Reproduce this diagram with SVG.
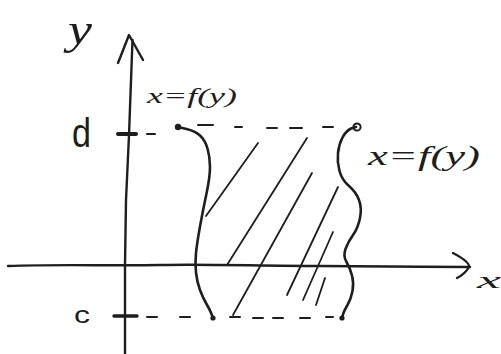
<svg xmlns="http://www.w3.org/2000/svg" width="501" height="354" viewBox="0 0 501 354">
<style>
.ink{fill:none;stroke:#1e1e1e;stroke-linecap:round;stroke-linejoin:round}
.ax{stroke-width:2.4}
.cv{stroke-width:2.6}
.ht{stroke-width:1.8}
.ds{stroke-width:2}
.lbl{font-family:"Liberation Serif",serif;font-style:italic;fill:#1e1e1e}
.let{font-family:"Liberation Sans",sans-serif;fill:#1e1e1e}
</style>
<rect width="501" height="354" fill="#ffffff"/>
<g id="axes">
  <path class="ink ax" d="M132.5,40 L129,135 L126,200 L125,265 L125,354"/>
  <path class="ink ax" d="M118,63 L129,35 L143,60"/>
  <path class="ink ax" d="M8,266 C60,264 110,266 160,265 S260,266 320,266 S420,267 470,267"/>
  <path class="ink ax" d="M453,253 Q470,262 469,267 Q465,274 457,278"/>
  <path class="ink" stroke-width="4" d="M118,134 L136,134"/>
  <path class="ink" stroke-width="3.4" d="M114,316 L137,316"/>
</g>
<g id="levels">
  <path class="ink ds" d="M147,134 L155,134 M198,125 L213,125 M235,127 L242,127 M267,128 L277,128 M290,128 L302,128 M323,127 L333,127"/>
  <path class="ink ds" d="M147,317 L157,317 M180,317 L190,317 M230,317 L240,317 M253,318 L263,318 M273,318 L283,318 M300,318 L310,318 M326,317 L333,317"/>
</g>
<g id="left-curve">
  <path class="ink cv" d="M178,127 L186.5,129 Q195,131 200,135.5 Q205,140 207.5,148.5 Q210,157 210,167 Q210,177 206.5,193.5 Q203,210 200,226.5 Q197,243 196,253 Q195,263 196,272.5 Q197,282 200,290 Q203,298 206.5,304 Q210,310 211.5,314 L213,318"/>
  <circle cx="178" cy="127" r="3.2" fill="#1e1e1e"/>
  <circle cx="213" cy="318" r="2.6" fill="#1e1e1e"/>
</g>
<g id="right-curve">
  <path class="ink cv" d="M356,127 L351,128.5 Q346,131 342.5,137.5 Q339,144 338,153 Q337,162 339.5,171 Q342,180 349,186 Q356,192 359,200 Q362,208 360,218 Q358,228 353,235 Q348,242 345.5,249 Q343,256 346.5,262 Q350,268 352,275.5 Q354,283 352.5,291 Q351,299 347.5,305 Q344,311 343,314.5 L342,318"/>
  <circle class="ink" stroke-width="2" cx="357" cy="127" r="3.6"/>
  <circle cx="342" cy="318" r="2.6" fill="#1e1e1e"/>
</g>
<g id="hatching">
  <path class="ink ht" d="M258,143 L206,216"/>
  <path class="ink ht" d="M307,138 L227,265"/>
  <path class="ink ht" d="M312,173 L233,315"/>
  <path class="ink ht" d="M338,187 L287,295"/>
  <path class="ink ht" d="M333,232 L303,300"/>
  <path class="ink ht" d="M325,278 L316,305"/>
</g>
<g id="labels">
  <text class="lbl" x="68" y="44" font-size="44" textLength="24" lengthAdjust="spacingAndGlyphs">y</text>
  <text class="let" x="72" y="147" font-size="40" textLength="19" lengthAdjust="spacingAndGlyphs">d</text>
  <text class="let" x="74" y="323" font-size="24" textLength="16" lengthAdjust="spacingAndGlyphs">c</text>
  <text class="lbl" x="477" y="288" font-size="24" textLength="24" lengthAdjust="spacingAndGlyphs">x</text>
  <text class="lbl" x="147" y="103" font-size="22" textLength="90" lengthAdjust="spacingAndGlyphs">x=f(y)</text>
  <text class="lbl" x="368" y="165" font-size="28" textLength="112" lengthAdjust="spacingAndGlyphs">x=f(y)</text>
</g>
</svg>
